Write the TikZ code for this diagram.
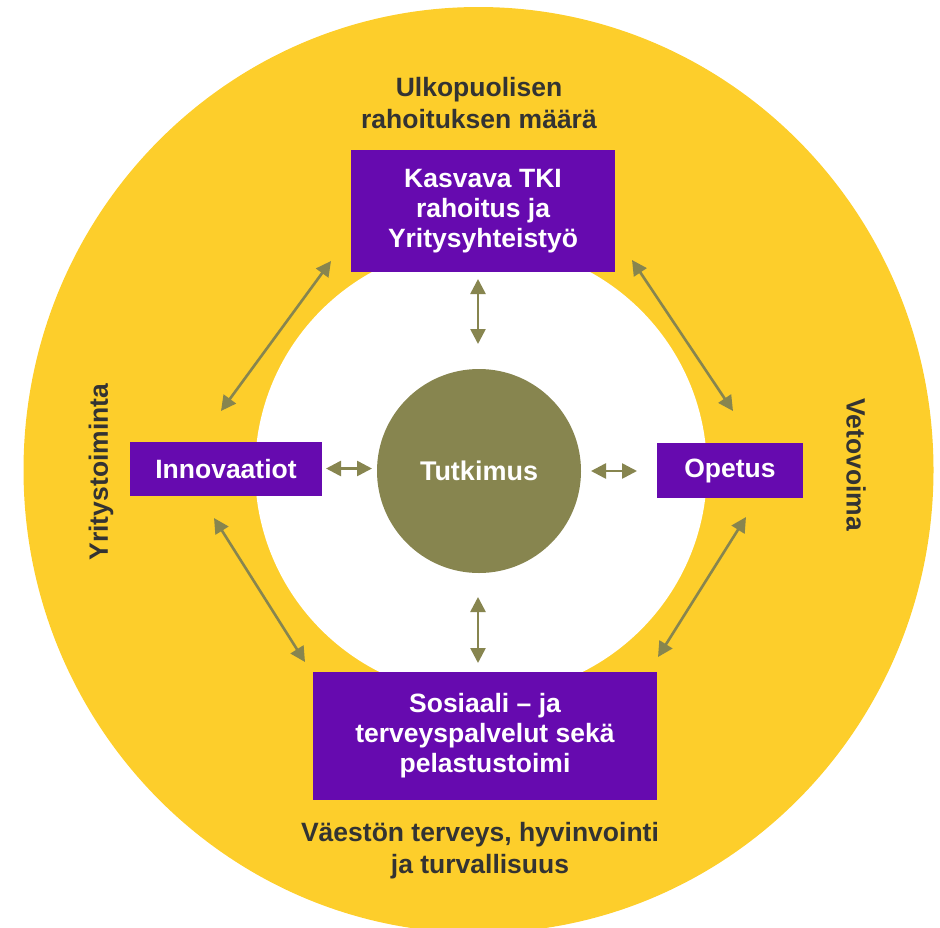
\documentclass[tikz,border=0pt]{standalone}
\usepackage{fontspec}
\setmainfont{Liberation Sans}
\usetikzlibrary{arrows.meta}
\definecolor{yel}{HTML}{FDCE2B}
\definecolor{purp}{HTML}{660AAF}
\definecolor{oliv}{HTML}{87854F}
\definecolor{dark}{HTML}{333333}
\tikzset{
  box/.style={fill=purp, text=white, inner sep=0pt, align=center,
    font=\bfseries\fontsize{26.5}{30}\selectfont},
  outer/.style={text=dark, inner sep=0pt, align=center,
    font=\bfseries\fontsize{26.5}{32}\selectfont},
  link/.style={draw=oliv, line width=2.6pt,
    {Triangle[length=15pt,width=15pt]}-{Triangle[length=15pt,width=15pt]}}
}
\begin{document}
\begin{tikzpicture}[x=1pt,y=-1pt]
\useasboundingbox (0,0) rectangle (940,927);
\fill[yel] (478.5,470) ellipse [x radius=455, y radius=463];
\fill[white] (481,470) circle [radius=226];
\node[circle, fill=oliv, minimum size=204pt, inner sep=0pt, text=white,
  font=\bfseries\fontsize{27}{32}\selectfont] (tut) at (479,471) {Tutkimus};
\node[box, minimum width=264pt, minimum height=122pt] (top) at (483,211)
  {Kasvava TKI\\rahoitus ja\\Yritysyhteistyö};
\node[box, minimum width=192pt, minimum height=54pt] (inn) at (226,469) {Innovaatiot};
\node[box, minimum width=146pt, minimum height=55pt] (ope) at (730,470.5) {Opetus};
\node[box, minimum width=344pt, minimum height=128pt] (bot) at (485,736)
  {Sosiaali – ja\\terveyspalvelut sekä\\pelastustoimi};
\node[outer] (ulk) at (479,103) {Ulkopuolisen\\rahoituksen määrä};
\node[outer] (vae) at (480,851) {Väestön terveys, hyvinvointi\\ja turvallisuus};
\node[outer, rotate=90] (yri) at (101,472) {Yritystoiminta};
\node[outer, rotate=-90] (vet) at (856,465) {Vetovoima};
% arrow end points
\coordinate (tv1) at (478,279); \coordinate (tv2) at (478,344);
\coordinate (bv1) at (478,597); \coordinate (bv2) at (478,663);
\coordinate (lh1) at (326,468.5); \coordinate (lh2) at (372,468.5);
\coordinate (rh1) at (591,471); \coordinate (rh2) at (637,471);
\coordinate (tl1) at (331,261); \coordinate (tl2) at (221,411);
\coordinate (tr1) at (632,260); \coordinate (tr2) at (733,411);
\coordinate (bl1) at (214,518); \coordinate (bl2) at (305,662);
\coordinate (br1) at (746,517); \coordinate (br2) at (658,657);
\draw[link] (tv1) -- (tv2);
\draw[link] (bv1) -- (bv2);
\draw[link] (lh1) -- (lh2);
\draw[link] (rh1) -- (rh2);
\draw[link] (tl1) -- (tl2);
\draw[link] (tr1) -- (tr2);
\draw[link] (bl1) -- (bl2);
\draw[link] (br1) -- (br2);
\end{tikzpicture}
\end{document}
